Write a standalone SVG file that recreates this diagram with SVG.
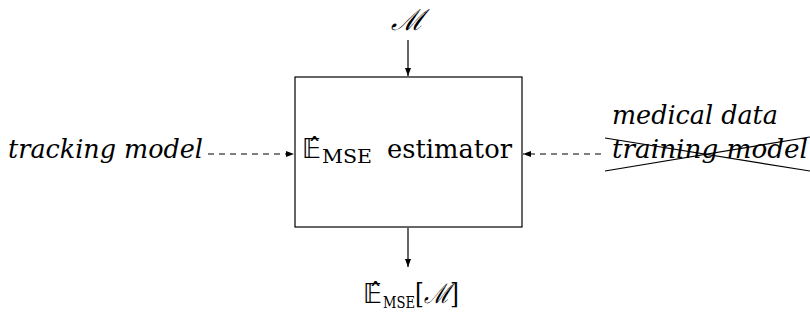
<svg xmlns="http://www.w3.org/2000/svg" width="810" height="320" viewBox="0 0 810 320">
<style>
.ln{stroke:#000;stroke-width:1.2;fill:none}
.ds{stroke-dasharray:6 5}
.s{font-family:"DejaVu Serif",serif;fill:#000}
</style>
<defs>
<marker id="ah" viewBox="0 0 8 6" refX="8" refY="3" markerWidth="8" markerHeight="6" markerUnits="userSpaceOnUse" orient="auto">
<path d="M0,0 L8,3 L0,6 Z" fill="#000"/>
</marker>
</defs>
<g id="box">
<rect x="295" y="77" width="227" height="150" fill="none" stroke="#000" stroke-width="1.2"/>
<text x="302" y="158" font-family="DejaVu Sans, sans-serif" font-size="26">𝔼̂</text>
<text class="s" x="322" y="163" font-size="18" textLength="50" lengthAdjust="spacingAndGlyphs">MSE</text>
<text class="s" x="387" y="158" font-size="26" textLength="125" lengthAdjust="spacingAndGlyphs">estimator</text>
</g>
<g id="input-top">
<text class="s" x="407" y="30" text-anchor="middle" font-size="29" font-style="italic">ℳ</text>
</g>
<g id="input-left">
<text class="s" x="8" y="158" font-size="26" font-style="italic" textLength="195" lengthAdjust="spacingAndGlyphs">tracking model</text>
</g>
<g id="input-right">
<text class="s" x="612" y="124" font-size="26" font-style="italic" textLength="166" lengthAdjust="spacingAndGlyphs">medical data</text>
<text class="s" x="612" y="158" font-size="26" font-style="italic" textLength="196" lengthAdjust="spacingAndGlyphs">training model</text>
<line class="ln" x1="605" y1="138" x2="810" y2="171"/>
<line class="ln" x1="605" y1="171" x2="810" y2="137"/>
</g>
<g id="output">
<text x="363" y="303" font-family="DejaVu Sans, sans-serif" font-size="26">𝔼̂</text>
<text class="s" x="383" y="308" font-size="16" textLength="32" lengthAdjust="spacingAndGlyphs">MSE</text>
<text class="s" x="415" y="303" font-size="27" textLength="44" lengthAdjust="spacingAndGlyphs">[<tspan font-style="italic">ℳ</tspan>]</text>
</g>
<g id="connectors">
<line class="ln" x1="408" y1="40" x2="408" y2="76" marker-end="url(#ah)"/>
<line class="ln" x1="408" y1="228" x2="408" y2="267" marker-end="url(#ah)"/>
<line class="ln ds" x1="208" y1="154" x2="294" y2="154" marker-end="url(#ah)"/>
<line class="ln ds" x1="601" y1="154" x2="523" y2="154" marker-end="url(#ah)"/>
</g>
</svg>
